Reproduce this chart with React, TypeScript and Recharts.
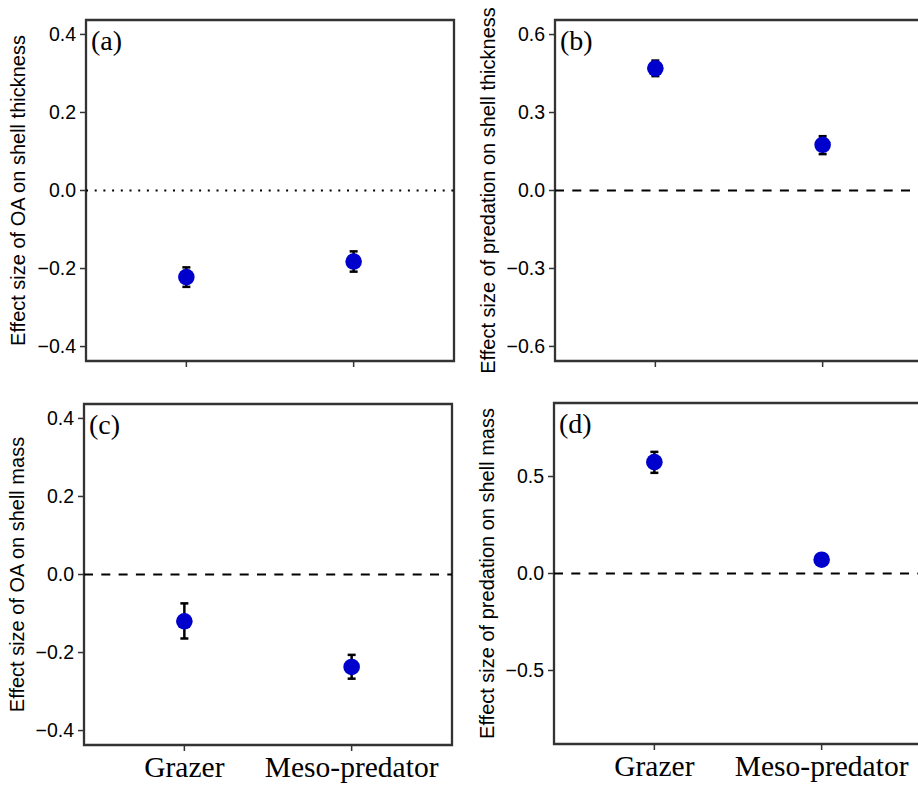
import { ErrorBar, ReferenceArea, ReferenceLine, Scatter, ScatterChart, XAxis, YAxis } from 'recharts';

const categories = ['Grazer', 'Meso-predator'];

// panel (a): OA on shell thickness
const thickOA = [-0.222, -0.182];
const thickOALow = [-0.247, -0.208];
const thickOAHigh = [-0.197, -0.156];

// panel (b): predation on shell thickness
const thickPred = [0.47, 0.176];
const thickPredLow = [0.44, 0.14];
const thickPredHigh = [0.5, 0.209];

// panel (c): OA on shell mass
const massOA = [-0.12, -0.237];
const massOALow = [-0.164, -0.267];
const massOAHigh = [-0.074, -0.206];

// panel (d): predation on shell mass
const massPred = [0.574, 0.071];
const massPredLow = [0.519, 0.058];
const massPredHigh = [0.627, 0.084];

const ticksOA = [-0.4, -0.2, 0, 0.2, 0.4];
const ticksThickPred = [-0.6, -0.3, 0, 0.3, 0.6];
const ticksMassPred = [-0.5, 0, 0.5];

const DOT = '#0000CD';
const FRAME = '#333333';
const SANS = '"Liberation Sans", Arial, sans-serif';
const SERIF = '"Liberation Serif", "Times New Roman", serif';
const X_DOMAIN: [number, number] = [-0.6, 1.6];

const rows = (vals: number[], low: number[], high: number[]) =>
  vals.map((v, i) => ({ x: i, y: v, err: [v - low[i], high[i] - v] }));

const fmt = (v: number) => (v < 0 ? '\u2212' : '') + Math.abs(v).toFixed(1);

type PanelProps = {
  left: number;
  top: number;
  width: number;
  height: number;
  margin: { top: number; right: number; left: number; bottom: number };
  yWidth: number;
  xHeight: number;
  labelX: number;
  tag: string;
  yLabel: string;
  domain: [number, number];
  ticks: number[];
  data: { x: number; y: number; err: number[] }[];
  zeroDash: string;
  showCats: boolean;
};

function Panel(p: PanelProps) {
  return (
    <div style={{ position: 'absolute', left: p.left, top: p.top }}>
      <ScatterChart width={p.width} height={p.height} margin={p.margin}>
        <XAxis
          type="number"
          dataKey="x"
          domain={X_DOMAIN}
          ticks={[0, 1]}
          allowDataOverflow
          axisLine={false}
          tickLine={{ stroke: FRAME, strokeWidth: 1.5 }}
          tickSize={6}
          tickMargin={5}
          height={p.xHeight}
          tickFormatter={(v: number) => (p.showCats ? categories[v] : '')}
          tick={{ fontSize: 29.5, fontFamily: SERIF, fill: '#000' }}
        />
        <YAxis
          type="number"
          dataKey="y"
          domain={p.domain}
          ticks={p.ticks}
          allowDataOverflow
          width={p.yWidth}
          axisLine={false}
          tickLine={{ stroke: FRAME, strokeWidth: 1.5 }}
          tickSize={6}
          tickMargin={4}
          tickFormatter={fmt}
          tick={{ fontSize: 19.5, fontFamily: SANS, fill: '#000' }}
          label={(lp: any) => {
            const vb = lp.viewBox;
            const cy = vb.y + vb.height / 2;
            return (
              <text
                x={p.labelX}
                y={cy}
                transform={`rotate(-90 ${p.labelX} ${cy})`}
                textAnchor="middle"
                dominantBaseline="central"
                fontSize={20}
                fontFamily={SANS}
                fill="#000"
              >
                {p.yLabel}
              </text>
            );
          }}
        />
        <ReferenceArea
          x1={X_DOMAIN[0]}
          x2={X_DOMAIN[1]}
          y1={p.domain[0]}
          y2={p.domain[1]}
          fill="none"
          stroke={FRAME}
          strokeWidth={2.3}
          label={(lp: any) => (
            <text x={lp.viewBox.x + 5} y={lp.viewBox.y + 30} fontSize={28} fontFamily={SERIF} fill="#000">
              {p.tag}
            </text>
          )}
        />
        <ReferenceLine y={0} stroke="#000" strokeWidth={2} strokeDasharray={p.zeroDash} />
        <Scatter
          data={p.data}
          isAnimationActive={false}
          shape={(sp: any) => <circle cx={sp.cx} cy={sp.cy} r={8.3} fill={DOT} />}
        >
          <ErrorBar dataKey="err" direction="y" width={4} strokeWidth={2.5} stroke="#000" />
        </Scatter>
      </ScatterChart>
    </div>
  );
}

export default function App() {
  return (
    <div style={{ position: 'absolute', left: 0, top: 0, width: 918, height: 786, overflow: 'hidden', background: '#fff' }}>
      <Panel
        left={0}
        top={0}
        width={460}
        height={390}
        margin={{ top: 20, right: 6, left: 0, bottom: 0 }}
        yWidth={86}
        xHeight={29}
        labelX={18}
        tag="(a)"
        yLabel="Effect size of OA on shell thickness"
        domain={[-0.437, 0.437]}
        ticks={ticksOA}
        data={rows(thickOA, thickOALow, thickOAHigh)}
        zeroDash="2 6.7"
        showCats={false}
      />
      <Panel
        left={460}
        top={0}
        width={469}
        height={390}
        margin={{ top: 20, right: 6, left: 0, bottom: 0 }}
        yWidth={95}
        xHeight={29}
        labelX={28}
        tag="(b)"
        yLabel="Effect size of predation on shell thickness"
        domain={[-0.656, 0.656]}
        ticks={ticksThickPred}
        data={rows(thickPred, thickPredLow, thickPredHigh)}
        zeroDash="9 8.3"
        showCats={false}
      />
      <Panel
        left={0}
        top={390}
        width={460}
        height={396}
        margin={{ top: 14, right: 8, left: 0, bottom: 0 }}
        yWidth={84}
        xHeight={41}
        labelX={17}
        tag="(c)"
        yLabel="Effect size of OA on shell mass"
        domain={[-0.437, 0.437]}
        ticks={ticksOA}
        data={rows(massOA, massOALow, massOAHigh)}
        zeroDash="9 8.3"
        showCats
      />
      <Panel
        left={460}
        top={390}
        width={468}
        height={396}
        margin={{ top: 13, right: 6, left: 0, bottom: 0 }}
        yWidth={94}
        xHeight={42}
        labelX={27}
        tag="(d)"
        yLabel="Effect size of predation on shell mass"
        domain={[-0.879, 0.879]}
        ticks={ticksMassPred}
        data={rows(massPred, massPredLow, massPredHigh)}
        zeroDash="9 8.3"
        showCats
      />
    </div>
  );
}
